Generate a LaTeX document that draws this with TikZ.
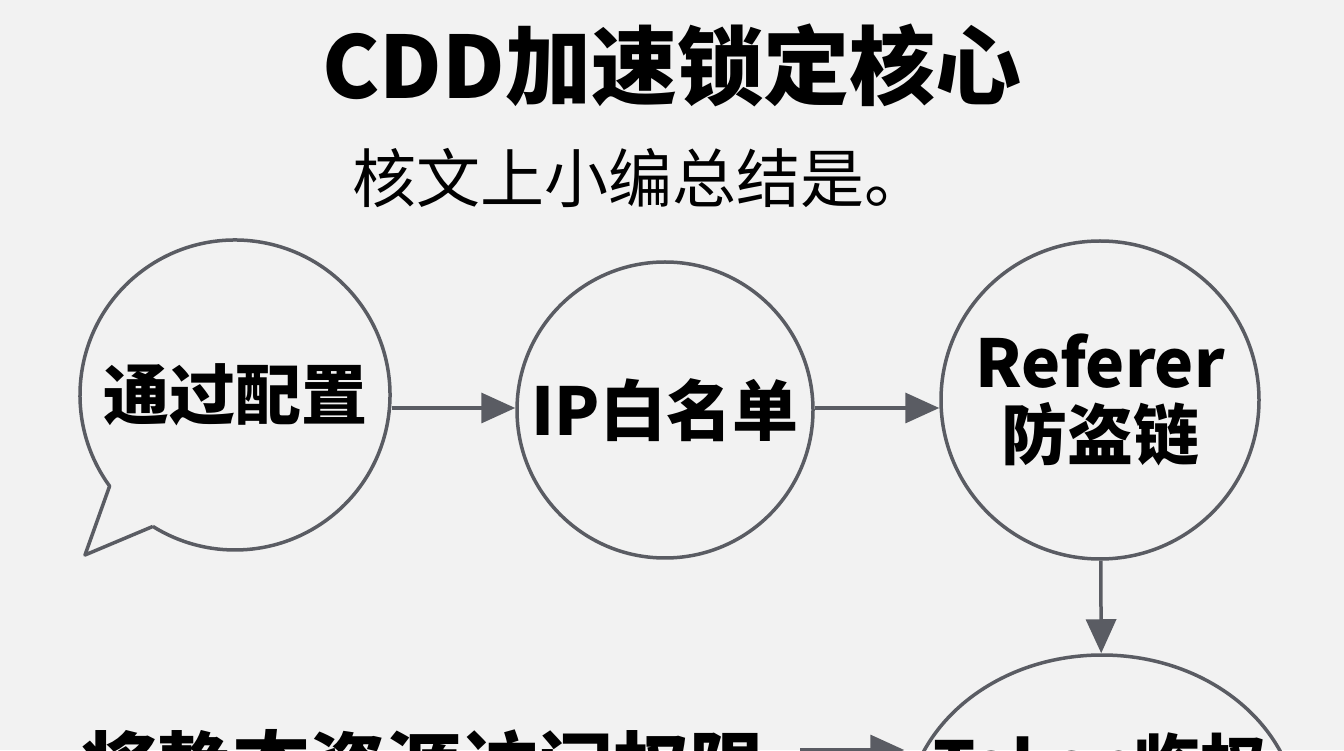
\documentclass[tikz,border=0pt]{standalone}
\usepackage{fontspec}
\setmainfont{Noto Sans CJK SC}
\usetikzlibrary{calc,arrows.meta,positioning,shapes.geometric}
\definecolor{bgcol}{HTML}{F2F2F2}
\definecolor{linecol}{HTML}{5A5C63}
\begin{document}
\begin{tikzpicture}[x=1pt,y=1pt]
		% Styles
		\tikzset{
			stage/.style={circle, draw=linecol, line width=3.5pt, align=center, font=\fontsize{66}{72}\selectfont\bfseries, inner sep=0pt},
			flow/.style={draw=linecol, line width=3.5pt, -{Triangle[length=34pt,width=30pt]}}
		}

		% Background
		\fill[bgcol] (0,0) rectangle (1344,750);
		\useasboundingbox (0,0) rectangle (1344,750);
		\clip (0,0) rectangle (1344,750);

		% Titles
		\node (title) at (672,685) {\fontsize{86}{96}\selectfont\bfseries CDD加速锁定核心};
		\node (sub) at (640,572) {\fontsize{64}{72}\selectfont 核文上小编总结是。};

		% Stages
		\node[stage, draw=none, minimum size=310pt] (cfg) at (235,355) {通过配置};
		\draw[linecol, line width=3.5pt, line join=round] ($(cfg.center)+(238:155)$) -- (85,195) -- ($(cfg.center)+(216:155)$) arc[start angle=216, end angle=-122, radius=155];
		\node[stage, minimum size=296pt] (ip) at (665,340) {IP白名单};
		\node[stage, minimum size=318pt] (ref) at (1100,350) {Referer\\防盗链};
		\node[stage, ellipse, minimum width=392pt, minimum height=330pt] (tok) at (1102,-70) {};
		\node[font=\fontsize{66}{72}\selectfont\bfseries] (toktxt) at (1100,-14) {Token临权};
		\node[font=\fontsize{76}{84}\selectfont\bfseries, anchor=west] (perm) at (78,-16) {将静态资源访问权限};

		% Connectors
		\draw[flow] (cfg.east |- 0,342) -- (ip.west |- 0,342);
		\draw[flow] (ip.east |- 0,342) -- (ref.west |- 0,342);
		\draw[flow] (ref) -- (tok);
		\coordinate (pend) at (800,0);
		\draw[flow] (pend) -- (tok.west |- pend);
	\end{tikzpicture}
\end{document}
